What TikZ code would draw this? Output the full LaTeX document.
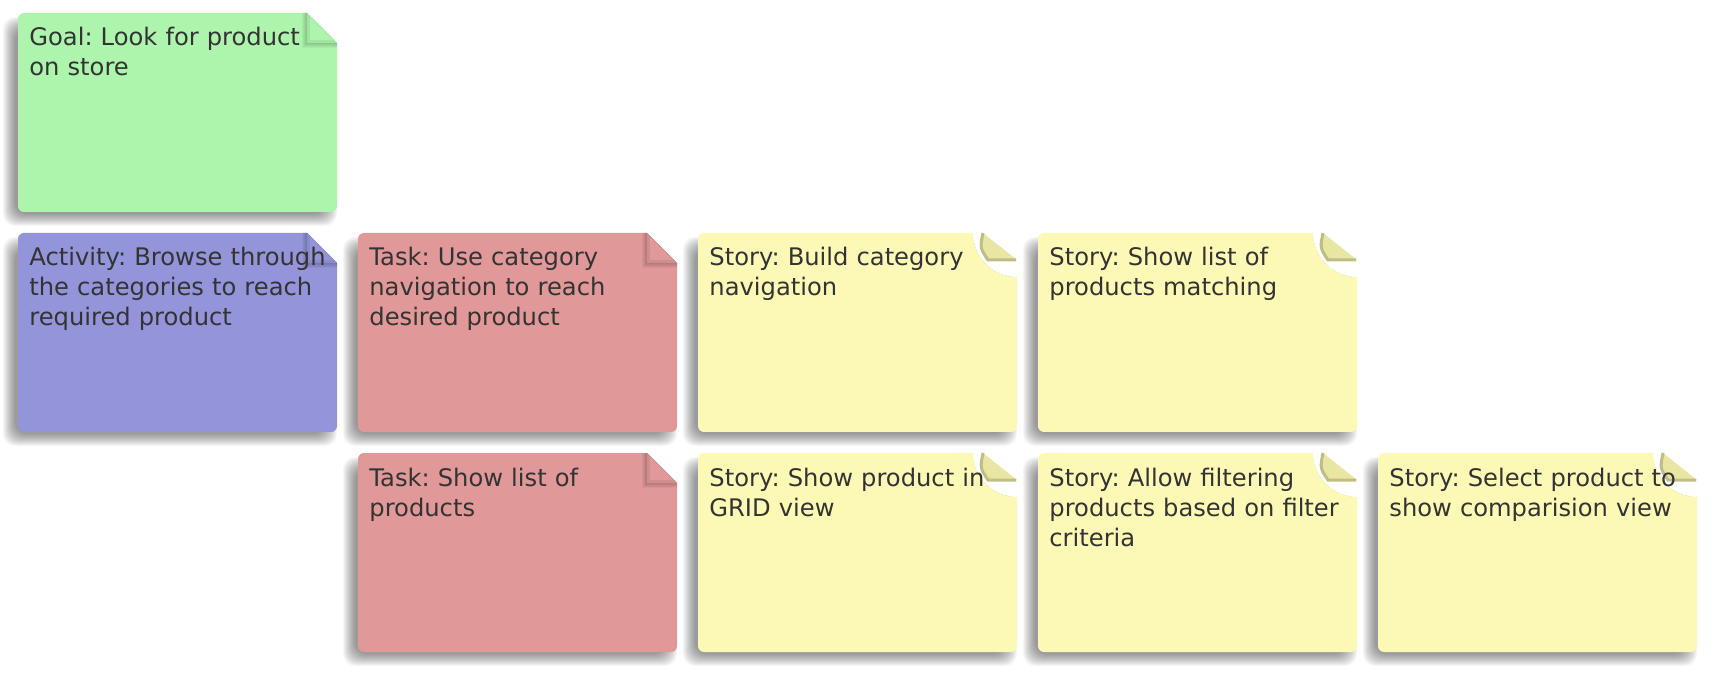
\documentclass[tikz,border=0pt]{standalone}
\usepackage{fontspec}
\setmainfont{DejaVu Sans}
\frenchspacing

\definecolor{goalfill}{HTML}{ADF5AD}
\definecolor{activityfill}{HTML}{9494DB}
\definecolor{taskfill}{HTML}{E09898}
\definecolor{storyfill}{HTML}{FBF9B5}
\definecolor{storyfold}{HTML}{E9E6A3}
\definecolor{inktext}{HTML}{333333}

\tikzset{
  cardtext/.style={anchor=base west, inner sep=0pt, text width=180pt, align=left,
    text=inktext, font=\fontsize{12.1}{15}\selectfont},
  shadowlayer/.style={black, opacity=0.036, rounded corners=6pt},
}

% soft shadow under a card, top left corner at (#1,#2)
\newcommand{\cardshadow}[2]{%
  \foreach \k in {0,...,12}
    \fill[shadowlayer] (#1-3-\k,#2+16-\k) rectangle (#1+307+\k,#2+201+\k);
}

% card with a plain dog-ear, #3 = colour
\newcommand{\plaincard}[3]{%
  \cardshadow{#1}{#2}
  \fill[white] (#1+289,#2) -- (#1+319,#2) -- (#1+319,#2+30) -- cycle;
  \fill[#3] (#1+289,#2) -- (#1+319,#2+30) -- (#1+319,#2+193)
    arc[start angle=0, end angle=90, radius=6] -- (#1+6,#2+199)
    arc[start angle=90, end angle=180, radius=6] -- (#1,#2+6)
    arc[start angle=180, end angle=270, radius=6] -- cycle;
  \foreach \k in {1,...,5}
    \fill[black, opacity=0.04] (#1+289-\k,#2) -- (#1+289-\k,#2+30+\k) -- (#1+319,#2+30+\k)
      -- (#1+319,#2+30) -- (#1+289,#2+30) -- (#1+289,#2) -- cycle;
  \fill[#3!93!black] (#1+289,#2) -- (#1+289,#2+30) -- (#1+319,#2+30) -- cycle;
  \fill[#3] (#1+292,#2+4) -- (#1+292,#2+27) -- (#1+315,#2+27) -- cycle;
}

% card with a curled corner (stories)
\newcommand{\storycard}[2]{%
  \cardshadow{#1}{#2}
  \fill[white] (#1+319,#2) -- (#1+275,#2) arc[start angle=180, end angle=90, radius=44] -- cycle;
  \fill[storyfill] (#1+275,#2) arc[start angle=180, end angle=90, radius=44]
    -- (#1+319,#2+193) arc[start angle=0, end angle=90, radius=6] -- (#1+6,#2+199)
    arc[start angle=90, end angle=180, radius=6] -- (#1,#2+6)
    arc[start angle=180, end angle=270, radius=6] -- cycle;
  \fill[storyfold] (#1+285,#2) .. controls (#1+282,#2+15) .. (#1+290,#2+27) -- (#1+319,#2+27) -- cycle;
  \draw[storyfold!82!black, line width=1.5pt] (#1+285,#2) .. controls (#1+282,#2+15) .. (#1+290,#2+27) -- (#1+318,#2+27);
}

\begin{document}
\begin{tikzpicture}[x=0.5pt, y=-0.5pt]
  \fill[white] (0,0) rectangle (1718,678);
  \useasboundingbox (0,0) rectangle (1718,678);

  % Goal
  \plaincard{18}{13}{goalfill}
  % Activity and tasks
  \plaincard{18}{233}{activityfill}
  \plaincard{358}{233}{taskfill}
  \plaincard{358}{453}{taskfill}
  % Stories
  \storycard{698}{233}
  \storycard{1038}{233}
  \storycard{698}{453}
  \storycard{1038}{453}
  \storycard{1378}{453}

  % Texts
  \node[cardtext] (goal) at (29,46) {Goal: Look for product\\on store};
  \node[cardtext] (activity) at (29,266) {Activity: Browse through\\the categories to reach\\required product};
  \node[cardtext] (tasknav) at (369,266) {Task: Use category\\navigation to reach\\desired product};
  \node[cardtext] (tasklist) at (369,486) {Task: Show list of\\products};
  \node[cardtext] (storynav) at (709,266) {Story: Build category\\navigation};
  \node[cardtext] (storymatch) at (1049,266) {Story: Show list of\\products matching};
  \node[cardtext] (storygrid) at (709,486) {Story: Show product in\\GRID view};
  \node[cardtext] (storyfilter) at (1049,486) {Story: Allow filtering\\products based on filter\\criteria};
  \node[cardtext] (storycompare) at (1389,486) {Story: Select product to\\show comparision view};
\end{tikzpicture}
\end{document}
